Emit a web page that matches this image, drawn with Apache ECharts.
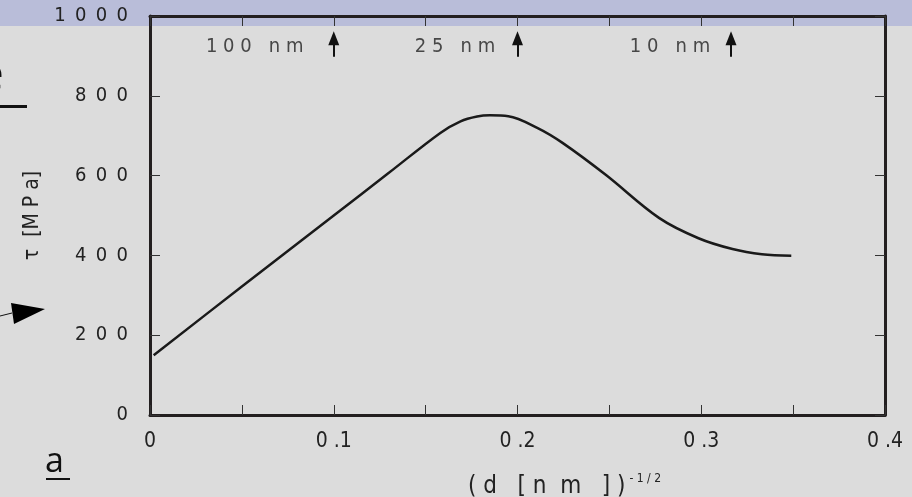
<!DOCTYPE html>
<html>
<head>
<meta charset="utf-8">
<script src="https://cdn.jsdelivr.net/npm/echarts@6/dist/echarts.min.js"></script>
<style>
  html, body { margin: 0; padding: 0; background: #dcdcdc; }
  #chart { width: 912px; height: 497px; }
</style>
</head>
<body>
<div id="chart"></div>
<script>
// curve
const xVals = [0.002, 0.05, 0.1, 0.13, 0.158, 0.169, 0.178, 0.185, 0.195, 0.211, 0.2245, 0.248, 0.277, 0.2985, 0.317, 0.333, 0.349];
const tauVals = [150, 322, 500, 607, 707, 736, 748, 751, 749, 719, 682, 602, 494, 443, 416, 403, 399];

// grain size markers at the top
const noteLabels = ['1 0 0   n m', '2 5   n m', '1 0   n m'];
const noteX = [0.057, 0.166, 0.283];
const arrowX = [0.1, 0.2, 0.3162];
const noteY = 922;
const arrowFrom = 898;
const arrowTo = 944;

const font = "'DejaVu Sans Condensed', sans-serif";

var chart = echarts.init(document.getElementById('chart'));

// box axis shared bits
function boxAxis(extra) {
  return Object.assign({
    type: 'value',
    axisLine: { show: true, onZero: false, lineStyle: { color: '#231f20', width: 3 } },
    axisTick: { inside: true, length: 10, lineStyle: { color: '#333', width: 1 } },
    splitLine: { show: false }
  }, extra);
}

var option = {
  backgroundColor: '#dcdcdc',
  animation: false,
  grid: { left: 150, right: 27, top: 16, bottom: 82, outerBoundsMode: 'none' },
  graphic: [
    // blue band at top of the slide
    { type: 'rect', z: -10, shape: { x: 0, y: 0, width: 912, height: 26 }, style: { fill: '#b9bdd9' } },
    // leftovers of the slide at the left edge
    { type: 'text', x: -23, y: 52, style: { text: 'e', font: '48px "Open Sans"', fill: '#111' } },
    { type: 'rect', shape: { x: 0, y: 105, width: 27, height: 3 }, style: { fill: '#111' } },
    { type: 'line', shape: { x1: 0, y1: 316, x2: 12, y2: 313 }, style: { stroke: '#111', lineWidth: 1 } },
    { type: 'polygon', shape: { points: [[11, 303], [45, 309], [14, 324]] }, style: { fill: '#000' } },
    { type: 'text', x: 45, y: 445, style: { text: 'a', font: '34px "Open Sans"', fill: '#111' } },
    { type: 'rect', shape: { x: 46, y: 478, width: 24, height: 2 }, style: { fill: '#111' } }
  ],
  xAxis: [
    boxAxis({
      min: 0, max: 0.4, interval: 0.05, position: 'bottom',
      name: '( d   [ n  m   ] ){sup|- 1 / 2}',
      nameLocation: 'middle', nameGap: 58,
      nameTextStyle: {
        fontFamily: font, fontSize: 24, color: '#222', padding: [0, 0, 0, 94],
        rich: { sup: { fontFamily: font, fontSize: 12, color: '#222', verticalAlign: 'top', padding: [0, 0, 16, 4] } }
      },
      axisLabel: {
        margin: 16, fontFamily: font, fontSize: 21, color: '#222',
        formatter: function (v) {
          var k = Math.round(v * 100);
          if (k % 10 !== 0) return '';
          return k === 0 ? '0' : '0 .' + (k / 10);
        }
      }
    }),
    boxAxis({
      min: 0, max: 0.4, interval: 0.05, position: 'top',
      axisLabel: { show: false }
    })
  ],
  yAxis: [
    boxAxis({
      min: 0, max: 1000, interval: 200, position: 'left',
      name: 'τ  [M P a]',
      nameLocation: 'middle', nameGap: 106, nameRotate: 90,
      nameTextStyle: { fontFamily: font, fontSize: 21, color: '#222' },
      axisLabel: {
        margin: 22, fontFamily: font, fontSize: 20, color: '#222',
        formatter: function (v) { return String(v).split('').join(' \u2009'); }
      }
    }),
    boxAxis({
      min: 0, max: 1000, interval: 200, position: 'right',
      axisLabel: { show: false }
    })
  ],
  series: [
    {
      type: 'line',
      data: xVals.map(function (x, i) { return [x, tauVals[i]]; }),
      smooth: 0.35,
      showSymbol: false,
      lineStyle: { color: '#1a1a1a', width: 2.5 }
    },
    {
      type: 'scatter',
      symbolSize: 0,
      data: noteX.map(function (x, i) { return { value: [x, noteY], name: noteLabels[i] }; }),
      label: {
        show: true, position: 'inside', formatter: '{b}',
        fontFamily: font, fontSize: 20, color: '#222'
      },
      markLine: {
        silent: true,
        symbol: ['none', 'triangle'],
        symbolSize: [11, 14],
        label: { show: false },
        lineStyle: { color: '#111', width: 2, type: 'solid' },
        data: arrowX.map(function (x) { return [{ coord: [x, arrowFrom] }, { coord: [x, arrowTo] }]; })
      }
    }
  ]
};

chart.setOption(option);
</script>
</body>
</html>
